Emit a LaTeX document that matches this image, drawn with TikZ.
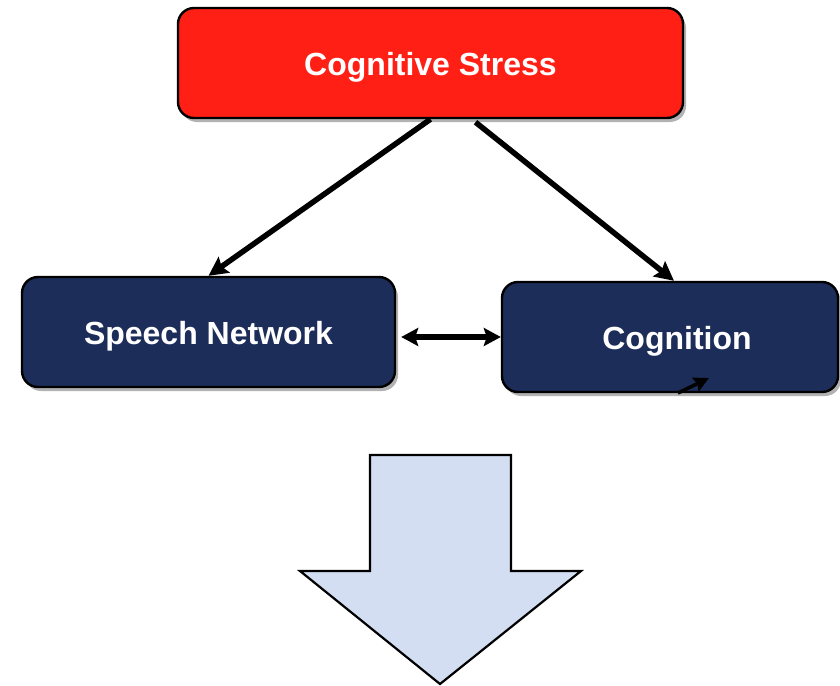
\documentclass[tikz,border=0pt]{standalone}
\usepackage{fontspec}
\setmainfont{Liberation Sans}
\usetikzlibrary{arrows.meta,shadows,calc}

\definecolor{stressred}{HTML}{FF1F14}
\definecolor{navybox}{HTML}{1C2D59}
\definecolor{arrowblue}{HTML}{D3DEF2}

\tikzset{
  box/.style={draw=black, line width=2.4pt, rounded corners=16pt,
    text=white, font=\fontsize{32}{36}\selectfont\bfseries,
    inner sep=0pt, text height=25pt, text depth=0pt,
    drop shadow={shadow xshift=3pt, shadow yshift=-4pt, opacity=0.3, fill=black}},
  conn/.style={line width=5.5pt, -{Stealth[length=19pt,width=19pt,inset=3pt]}},
  dblconn/.style={line width=5.5pt, {Stealth[length=17pt,width=18pt,inset=3pt]}-{Stealth[length=17pt,width=18pt,inset=3pt]}},
  smallconn/.style={line width=3.5pt, -{Stealth[length=15pt,width=15pt,inset=2pt]}},
  bigarrow/.style={draw=black, line width=2.2pt, fill=arrowblue, line join=miter}
}

\begin{document}
\begin{tikzpicture}[x=1pt, y=-1pt]
  \useasboundingbox (0,0) rectangle (840,685);

  % boxes
  \node[box, fill=stressred, minimum width=505pt, minimum height=110pt]
    (stress) at (430.5,63) {Cognitive Stress};
  \node[box, fill=navybox, minimum width=373pt, minimum height=110pt]
    (speech) at (208.5,332) {Speech Network};
  \node[box, fill=navybox, minimum width=336pt, minimum height=110pt]
    (cog) at (670,337) {\hspace*{14pt}Cognition};

  % connectors
  \draw[conn] (stress.south) -- (speech.north);
  \draw[conn] ([xshift=45pt,yshift=-3pt]stress.south) -- ([xshift=4pt]cog.north);
  \draw[dblconn] ([xshift=5pt]speech.east |- cog.west) -- (cog.west);

  \coordinate (sa) at (678,393);
  \coordinate (sb) at (709,378);
  \draw[smallconn] (sa) -- (sb);

  % large block arrow pointing down
  \draw[bigarrow] (370,455) -- (511,455) -- (511,571) -- (581,571)
    -- (440,684) -- (300,571) -- (370,571) -- cycle;
\end{tikzpicture}
\end{document}
